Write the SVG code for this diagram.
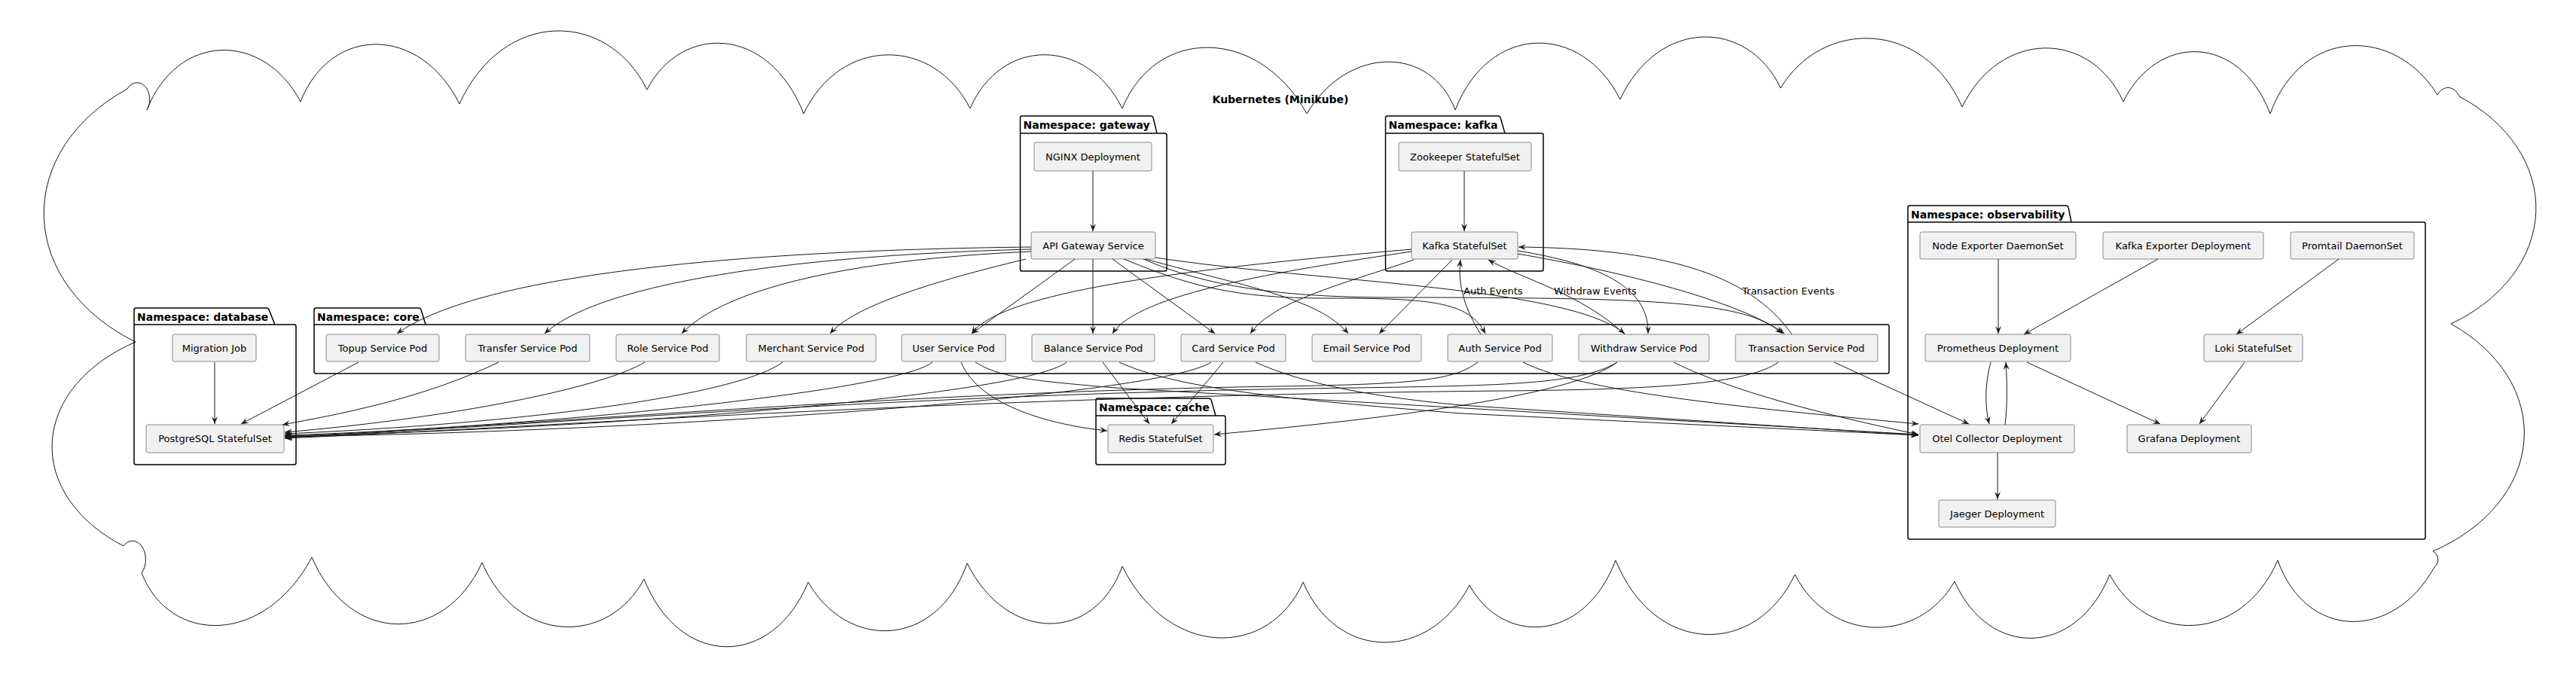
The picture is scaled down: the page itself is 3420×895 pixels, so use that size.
<svg xmlns="http://www.w3.org/2000/svg" width="3420" height="895" viewBox="0 0 3420 895">
<defs>
<marker id="ah" viewBox="0 0 10 8" refX="10" refY="4" markerWidth="10" markerHeight="8" markerUnits="userSpaceOnUse" orient="auto"><path d="M0,0 L10,4 L0,8 L4,4 Z" fill="#181818"/></marker>
<style>
.cloud{fill:none;stroke:#181818;stroke-width:1}
.pkg path{fill:none;stroke:#000;stroke-width:1.5}
.pkg text{font-family:"DejaVu Sans",sans-serif;font-size:14px;font-weight:bold;fill:#000}
.node rect{fill:#F1F1F1;stroke:#181818;stroke-width:0.5}
.node text{font-family:"DejaVu Sans",sans-serif;font-size:13px;fill:#000;text-anchor:middle}
.edges path{fill:none;stroke:#181818;stroke-width:1;marker-end:url(#ah)}
.lbl{font-family:"DejaVu Sans",sans-serif;font-size:13px;fill:#000}
.title{font-family:"DejaVu Sans",sans-serif;font-size:14px;font-weight:bold;fill:#000;text-anchor:middle}
</style>
</defs>
<rect width="3420" height="895" fill="#fff"/>
<g id="cloud">
<path class="cloud" d="M169,118 A15,20 0 0 1 195,146 C236,42 350,42 399,135 C439,33 558,33 610,138 C667,12 806,12 859,119 C904,32 1020,32 1067,151 C1116,48 1239,48 1288,144 C1329,49 1443,49 1490,144 C1534,35 1671,35 1735,151 C1789,60 1900,60 1932,146 C1977,30 2100,30 2151,132 C2201,24 2320,24 2364,117 C2419,25 2554,25 2605,142 C2655,39 2775,39 2819,135 C2864,44 2973,44 3014,151 C3056,35 3180,35 3236,126 A17,22 0 0 1 3265,128 A239,181 0 0 1 3254,430 A242,181 0 0 1 3230,732 A14,13 0 0 1 3232,753 C3178,851 3062,851 3024,744 C2975,856 2850,856 2801,763 C2756,874 2640,874 2595,772 C2548,855 2430,855 2383,763 C2331,872 2197,872 2145,744 C2102,856 1994,856 1951,777 C1898,879 1775,879 1730,773 C1685,875 1551,875 1490,752 C1453,854 1337,854 1284,748 C1243,863 1124,863 1073,773 C1025,888 903,888 855,769 C808,857 687,857 640,747 C590,857 464,857 414,740 C352,857 226,857 188,761 A14,20 0 0 0 164,725 A231,163 0 0 1 180,454 A261,202 0 0 1 169,118 Z"/>
<text class="title" x="1700" y="137">Kubernetes (Minikube)</text>
</g>
<g id="ns-gateway" class="pkg">
<path d="M1357,154 L1528,154 Q1530,154 1531,156 L1536,177 L1546.5,177 Q1549,177 1549,179.5 L1549,357.5 Q1549,360 1546.5,360 L1357,360 Q1354.5,360 1354.5,357.5 L1354.5,156.5 Q1354.5,154 1357,154 Z M1354.5,177 L1536,177"/>
<text x="1358.5" y="171">Namespace: gateway</text>
</g>
<g id="ns-kafka" class="pkg">
<path d="M1842,154 L1989,154 Q1991,154 1992,156 L1998,177 L2046.5,177 Q2049,177 2049,179.5 L2049,357.5 Q2049,360 2046.5,360 L1842,360 Q1839.5,360 1839.5,357.5 L1839.5,156.5 Q1839.5,154 1842,154 Z M1839.5,177 L1998,177"/>
<text x="1843.5" y="171">Namespace: kafka</text>
</g>
<g id="ns-database" class="pkg">
<path d="M180.5,409 L354,409 Q356,409 357,411 L365,431 L390.5,431 Q393,431 393,433.5 L393,614.5 Q393,617 390.5,617 L180.5,617 Q178,617 178,614.5 L178,411.5 Q178,409 180.5,409 Z M178,431 L365,431"/>
<text x="182" y="426">Namespace: database</text>
</g>
<g id="ns-core" class="pkg">
<path d="M419.5,409 L556,409 Q558,409 559,411 L565,431 L2505.5,431 Q2508,431 2508,433.5 L2508,493.5 Q2508,496 2505.5,496 L419.5,496 Q417,496 417,493.5 L417,411.5 Q417,409 419.5,409 Z M417,431 L565,431"/>
<text x="421" y="426">Namespace: core</text>
</g>
<g id="ns-cache" class="pkg">
<path d="M1457.5,529 L1605,529 Q1607,529 1608,531 L1614,552 L1624.5,552 Q1627,552 1627,554.5 L1627,614.5 Q1627,617 1624.5,617 L1457.5,617 Q1455,617 1455,614.5 L1455,531.5 Q1455,529 1457.5,529 Z M1455,552 L1614,552"/>
<text x="1459" y="546">Namespace: cache</text>
</g>
<g id="ns-observability" class="pkg">
<path d="M2535.5,273 L2743,273 Q2745,273 2746,275 L2750,295 L3217.5,295 Q3220,295 3220,297.5 L3220,713.5 Q3220,716 3217.5,716 L2535.5,716 Q2533,716 2533,713.5 L2533,275.5 Q2533,273 2535.5,273 Z M2533,295 L2750,295"/>
<text x="2537" y="290">Namespace: observability</text>
</g>
<g id="nginx" class="node"><rect x="1373" y="189" width="156" height="38" rx="2.5"/><text x="1451" y="213">NGINX Deployment</text></g>
<g id="apigw" class="node"><rect x="1369" y="308" width="165" height="36" rx="2.5"/><text x="1451.5" y="331">API Gateway Service</text></g>
<g id="zookeeper" class="node"><rect x="1857" y="189" width="176" height="38" rx="2.5"/><text x="1945" y="213">Zookeeper StatefulSet</text></g>
<g id="kafka" class="node"><rect x="1874" y="308" width="141" height="36" rx="2.5"/><text x="1944.5" y="331">Kafka StatefulSet</text></g>
<g id="migration" class="node"><rect x="229" y="444" width="111" height="36" rx="2.5"/><text x="284.5" y="467">Migration Job</text></g>
<g id="postgres" class="node"><rect x="194" y="564" width="183" height="37" rx="2.5"/><text x="285.5" y="587">PostgreSQL StatefulSet</text></g>
<g id="topup" class="node"><rect x="433" y="444" width="150" height="36" rx="2.5"/><text x="508" y="467">Topup Service Pod</text></g>
<g id="transfer" class="node"><rect x="618" y="444" width="165" height="36" rx="2.5"/><text x="700.5" y="467">Transfer Service Pod</text></g>
<g id="role" class="node"><rect x="818" y="444" width="137" height="36" rx="2.5"/><text x="886.5" y="467">Role Service Pod</text></g>
<g id="merchant" class="node"><rect x="991" y="444" width="172" height="36" rx="2.5"/><text x="1077" y="467">Merchant Service Pod</text></g>
<g id="user" class="node"><rect x="1197" y="444" width="138" height="36" rx="2.5"/><text x="1266" y="467">User Service Pod</text></g>
<g id="balance" class="node"><rect x="1370" y="444" width="163" height="36" rx="2.5"/><text x="1451.5" y="467">Balance Service Pod</text></g>
<g id="card" class="node"><rect x="1568" y="444" width="139" height="36" rx="2.5"/><text x="1637.5" y="467">Card Service Pod</text></g>
<g id="email" class="node"><rect x="1742" y="444" width="145" height="36" rx="2.5"/><text x="1814.5" y="467">Email Service Pod</text></g>
<g id="auth" class="node"><rect x="1922" y="444" width="139" height="36" rx="2.5"/><text x="1991.5" y="467">Auth Service Pod</text></g>
<g id="withdraw" class="node"><rect x="2096" y="444" width="173" height="36" rx="2.5"/><text x="2182.5" y="467">Withdraw Service Pod</text></g>
<g id="transaction" class="node"><rect x="2304" y="444" width="189" height="36" rx="2.5"/><text x="2398.5" y="467">Transaction Service Pod</text></g>
<g id="redis" class="node"><rect x="1471" y="564" width="140" height="37" rx="2.5"/><text x="1541" y="587">Redis StatefulSet</text></g>
<g id="nodeexp" class="node"><rect x="2549" y="308" width="207" height="36" rx="2.5"/><text x="2652.5" y="331">Node Exporter DaemonSet</text></g>
<g id="kafkaexp" class="node"><rect x="2792" y="308" width="213" height="36" rx="2.5"/><text x="2898.5" y="331">Kafka Exporter Deployment</text></g>
<g id="promtail" class="node"><rect x="3041" y="308" width="164" height="36" rx="2.5"/><text x="3123" y="331">Promtail DaemonSet</text></g>
<g id="prometheus" class="node"><rect x="2556" y="444" width="193" height="36" rx="2.5"/><text x="2652.5" y="467">Prometheus Deployment</text></g>
<g id="loki" class="node"><rect x="2926" y="444" width="131" height="36" rx="2.5"/><text x="2991.5" y="467">Loki StatefulSet</text></g>
<g id="otel" class="node"><rect x="2549" y="564" width="205" height="37" rx="2.5"/><text x="2651.5" y="587">Otel Collector Deployment</text></g>
<g id="grafana" class="node"><rect x="2824" y="564" width="165" height="37" rx="2.5"/><text x="2906.5" y="587">Grafana Deployment</text></g>
<g id="jaeger" class="node"><rect x="2574" y="664" width="155" height="36" rx="2.5"/><text x="2651.5" y="687">Jaeger Deployment</text></g>
<g id="connectors" class="edges">
<path d="M1451,227 L1451,307"/>
<path d="M1944,227 L1944,307"/>
<path d="M1369,328 C1000,332 640,362 527,443"/>
<path d="M1369,331 C1080,338 800,372 723,443"/>
<path d="M1369,334 C1120,345 960,385 905,443"/>
<path d="M1362,344 C1220,378 1130,410 1102,443"/>
<path d="M1427,344 L1290,443"/>
<path d="M1451,344 L1451,443"/>
<path d="M1477,344 L1613,443"/>
<path d="M1521,344 C1650,380 1750,395 1790,443"/>
<path d="M1492,344 C1580,380 1640,396 1760,396 C1900,396 1950,400 1972,443"/>
<path d="M1534,342 C1750,375 2080,380 2157,443"/>
<path d="M1518,344 C1600,380 1700,395 1850,395 C2200,395 2320,400 2366,443"/>
<path d="M1874,331 C1600,355 1330,385 1290,443"/>
<path d="M1874,334 C1700,360 1510,390 1477,443"/>
<path d="M1877,345 C1780,378 1690,400 1660,443"/>
<path d="M1928,345 L1831,443"/>
<path d="M1966,444 C1945,410 1935,380 1939,345"/>
<path d="M2157,444 C2100,390 2020,370 1976,345"/>
<path d="M2015,333 C2120,350 2190,380 2188,443"/>
<path d="M2015,337 C2150,360 2310,400 2369,443"/>
<path d="M2379,444 C2320,360 2200,330 2016,328"/>
<path d="M285,481 L285,563"/>
<path d="M476,481 L320,563"/>
<path d="M662,481 C560,530 450,550 375,564"/>
<path d="M856,481 C800,515 600,555 378,574"/>
<path d="M1039,481 C980,525 700,562 378,576"/>
<path d="M1238,481 C1190,520 700,568 378,578"/>
<path d="M1416,481 C1360,525 800,570 378,579"/>
<path d="M1608,481 C1540,525 900,572 378,580"/>
<path d="M1962,481 C1930,505 1880,510 1700,513 C1200,520 700,565 378,580"/>
<path d="M2147,481 C2100,510 2000,512 1800,515 C1200,522 700,566 378,581"/>
<path d="M2361,481 C2320,510 2200,517 2000,519 C1300,525 700,568 378,582"/>
<path d="M1276,481 C1300,540 1400,565 1470,572"/>
<path d="M1464,481 L1526,563"/>
<path d="M1624,481 L1555,563"/>
<path d="M2147,481 C2090,525 1850,555 1612,577"/>
<path d="M1295,481 C1330,503 1380,506 1480,515 L2547,577"/>
<path d="M1486,481 C1560,515 1700,530 1940,549 L2547,578"/>
<path d="M1667,481 C1720,505 1800,525 1940,538 L2547,578"/>
<path d="M2022,481 C2100,520 2300,540 2547,563"/>
<path d="M2222,481 C2300,520 2420,550 2547,577"/>
<path d="M2435,481 L2614,563"/>
<path d="M2653,344 L2653,443"/>
<path d="M2865,344 L2687,444"/>
<path d="M3105,344 L2969,444"/>
<path d="M2643,481 C2635,510 2635,540 2641,563"/>
<path d="M2662,564 C2665,540 2665,510 2663,481"/>
<path d="M2691,481 L2868,563"/>
<path d="M2980,481 L2920,563"/>
<path d="M2652,601 L2652,663"/>
<text class="lbl" x="1943" y="391">Auth Events</text>
<text class="lbl" x="2063" y="391">Withdraw Events</text>
<text class="lbl" x="2313" y="391">Transaction Events</text>
</g>
</svg>
